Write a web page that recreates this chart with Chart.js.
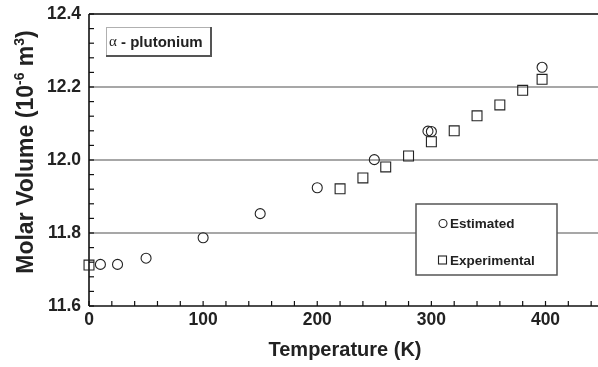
<!DOCTYPE html>
<html>
<head>
<meta charset="utf-8">
<script src="https://cdn.jsdelivr.net/npm/chart.js@4/dist/chart.umd.min.js"></script>
<style>
html,body{margin:0;padding:0;background:#fff;}
#wrap{width:598px;height:367px;}
</style>
</head>
<body>
<div id="wrap"><canvas id="c" width="598" height="367"></canvas></div>
<script>
// ---- data ----
const estimatedT = [10, 25, 50, 100, 150, 200, 250, 297, 300, 397];
const estimatedV = [11.714, 11.714, 11.731, 11.787, 11.853, 11.924, 12.001, 12.079, 12.078, 12.254];
const experimentalT = [0, 220, 240, 260, 280, 300, 320, 340, 360, 380, 397];
const experimentalV = [11.712, 11.921, 11.951, 11.981, 12.011, 12.050, 12.080, 12.121, 12.151, 12.191, 12.221];
const xTickLabels = [0, 100, 200, 300, 400];
const yTickLabels = [11.6, 11.8, 12.0, 12.2, 12.4];
const yGridValues = [11.8, 12.0, 12.2];
const seriesNames = ['Estimated', 'Experimental'];
const xTitle = 'Temperature (K)';
const annotationText = ['\u03B1', ' - plutonium'];

const X_MIN = 0, X_MAX = 446, X_MINOR = 20;
const Y_MIN = 11.6, Y_MAX = 12.4, Y_MINOR = 0.04;

const FONT = '"Liberation Sans", Arial, Helvetica, sans-serif';
const INK = '#222';

function toXY(xs, ys){ return xs.map((v,i)=>({x:v, y:ys[i]})); }

function line(ctx,x1,y1,x2,y2){ ctx.beginPath(); ctx.moveTo(x1,y1); ctx.lineTo(x2,y2); ctx.stroke(); }

const decor = {
  id: 'decor',
  beforeDatasetsDraw(chart){
    const {ctx, chartArea:a, scales:{x,y}} = chart;
    ctx.save();
    // horizontal grid lines
    ctx.strokeStyle = '#8a8a8a'; ctx.lineWidth = 1.6;
    yGridValues.forEach(v=>{ const py = y.getPixelForValue(v); line(ctx,a.left,py,a.right,py); });
    // top frame line
    ctx.strokeStyle = '#444'; ctx.lineWidth = 2;
    line(ctx,a.left,a.top,a.right,a.top);
    // axes
    ctx.strokeStyle = '#111'; ctx.lineWidth = 1.6;
    line(ctx,a.left,a.top,a.left,a.bottom);
    line(ctx,a.left,a.bottom,a.right,a.bottom);
    // inward tick marks
    ctx.lineWidth = 1.2;
    x.ticks.forEach(t=>{ const px = x.getPixelForValue(t.value); line(ctx,px,a.bottom,px,a.bottom-5); });
    y.ticks.forEach(t=>{ const py = y.getPixelForValue(t.value); line(ctx,a.left,py,a.left+5,py); });
    ctx.restore();
  },
  afterDatasetsDraw(chart){
    const {ctx} = chart;
    ctx.save();
    ctx.fillStyle = INK;
    // x axis title
    ctx.font = 'bold 20px ' + FONT;
    ctx.textAlign = 'center'; ctx.textBaseline = 'middle';
    ctx.fillText(xTitle, 345, 350);

    // y axis title with superscripts (rotated)
    const parts = [
      {t:'Molar Volume (10', sup:false},
      {t:'-6', sup:true},
      {t:' m', sup:false},
      {t:'3', sup:true},
      {t:')', sup:false}
    ];
    const mainF = 'bold 23px ' + FONT, supF = 'bold 14px ' + FONT;
    let total = 0;
    parts.forEach(p=>{ ctx.font = p.sup?supF:mainF; p.w = ctx.measureText(p.t).width; total += p.w; });
    ctx.translate(25, 152);
    ctx.rotate(-Math.PI/2);
    ctx.textAlign = 'left'; ctx.textBaseline = 'alphabetic';
    let cx = -total/2;
    parts.forEach(p=>{
      ctx.font = p.sup?supF:mainF;
      ctx.fillText(p.t, cx, p.sup ? -1.5 : 8);
      cx += p.w;
    });
    ctx.setTransform(1,0,0,1,0,0);

    // annotation box "α - plutonium"
    const bx = 106, by = 27, bw = 105, bh = 29;
    ctx.fillStyle = '#fff';
    ctx.fillRect(bx,by,bw,bh);
    ctx.strokeStyle = '#b0b0b0'; ctx.lineWidth = 1;
    line(ctx,bx+0.5,by+bh,bx+0.5,by+0.5); line(ctx,bx,by+0.5,bx+bw,by+0.5);
    ctx.strokeStyle = '#555'; ctx.lineWidth = 2;
    line(ctx,bx+bw,by,bx+bw,by+bh+1); line(ctx,bx,by+bh,bx+bw+1,by+bh);
    ctx.fillStyle = INK; ctx.textBaseline = 'middle'; ctx.textAlign = 'left';
    ctx.font = '15px "Liberation Serif", "Times New Roman", serif';
    ctx.fillText(annotationText[0], bx+3, by+bh/2+1);
    const aw = ctx.measureText(annotationText[0]).width;
    ctx.font = 'bold 15px ' + FONT;
    ctx.fillText(annotationText[1], bx+3+aw, by+bh/2+1);

    // legend box
    const lx = 416, ly = 204, lw = 141, lh = 71;
    ctx.fillStyle = '#fff';
    ctx.fillRect(lx,ly,lw,lh);
    ctx.strokeStyle = '#555'; ctx.lineWidth = 1.5;
    ctx.strokeRect(lx,ly,lw,lh);
    ctx.strokeStyle = '#222'; ctx.lineWidth = 1.1;
    ctx.beginPath(); ctx.arc(443, 223.5, 4, 0, Math.PI*2); ctx.stroke();
    ctx.strokeRect(438.5, 256, 8, 8);
    ctx.fillStyle = INK; ctx.font = 'bold 13.5px ' + FONT;
    ctx.textBaseline = 'middle';
    ctx.fillText(seriesNames[0], 450, 224.5);
    ctx.fillText(seriesNames[1], 450, 261);
    ctx.restore();
  }
};

const tickFont = {family: FONT, size: 17.5, weight: 'bold'};

new Chart(document.getElementById('c'), {
  type: 'scatter',
  data: {
    datasets: [
      {
        label: seriesNames[0],
        data: toXY(estimatedT, estimatedV),
        pointStyle: 'circle', pointRadius: 5, pointHoverRadius: 5,
        borderColor: '#222', backgroundColor: 'rgba(0,0,0,0)', borderWidth: 1.1,
        showLine: false, clip: false
      },
      {
        label: seriesNames[1],
        data: toXY(experimentalT, experimentalV),
        pointStyle: 'rect', pointRadius: 7, pointHoverRadius: 7,
        borderColor: '#222', backgroundColor: 'rgba(0,0,0,0)', borderWidth: 1.1,
        showLine: false, clip: false
      }
    ]
  },
  options: {
    responsive: false,
    animation: false,
    devicePixelRatio: 1,
    layout: {autoPadding: false, padding: {top: 14, right: 0, left: 0, bottom: 0}},
    plugins: {legend: {display: false}, tooltip: {enabled: false}},
    scales: {
      x: {
        type: 'linear', min: X_MIN, max: X_MAX,
        afterBuildTicks(s){
          const t = [];
          for (let v = X_MIN; v <= X_MAX + 1e-9; v += X_MINOR) t.push({value: v});
          s.ticks = t;
        },
        afterFit(s){ s.height = 61; s.paddingLeft = 0; s.paddingRight = 0; },
        grid: {display: false, drawTicks: false},
        border: {display: false},
        ticks: {
          autoSkip: false, maxRotation: 0, padding: 4, color: INK, font: tickFont,
          callback(v){ return xTickLabels.includes(v) ? String(v) : ''; }
        }
      },
      y: {
        type: 'linear', min: Y_MIN, max: Y_MAX,
        afterBuildTicks(s){
          const t = [];
          for (let i = 0; i <= Math.round((Y_MAX - Y_MIN)/Y_MINOR); i++) t.push({value: +(Y_MIN + i*Y_MINOR).toFixed(2)});
          s.ticks = t;
        },
        afterFit(s){ s.width = 89; s.paddingTop = 0; s.paddingBottom = 0; },
        grid: {display: false, drawTicks: false},
        border: {display: false},
        ticks: {
          autoSkip: false, padding: 8, color: INK, font: tickFont,
          callback(v){ return yTickLabels.some(l=>Math.abs(l-v)<1e-6) ? v.toFixed(1) : ''; }
        }
      }
    }
  },
  plugins: [decor]
});
</script>
</body>
</html>
